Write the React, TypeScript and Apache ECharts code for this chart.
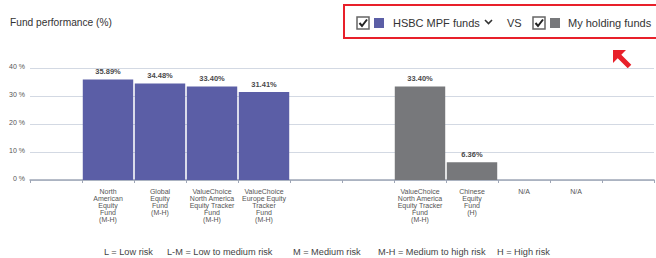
import React, { useEffect, useRef } from "react";
import * as echarts from "echarts";

const categories = [
  "",
  "North\nAmerican\nEquity\nFund\n(M-H)",
  "Global\nEquity\nFund\n(M-H)",
  "ValueChoice\nNorth America\nEquity Tracker\nFund\n(M-H)",
  "ValueChoice\nEurope Equity\nTracker\nFund\n(M-H)",
  "",
  "",
  "ValueChoice\nNorth America\nEquity Tracker\nFund\n(M-H)",
  "Chinese\nEquity\nFund\n(H)",
  "N/A",
  "N/A",
  "",
];

const hsbcValues = ["-", 35.89, 34.48, 33.4, 31.41, "-", "-", "-", "-", "-", "-", "-"];
const holdingValues = ["-", "-", "-", "-", "-", "-", "-", 33.4, 6.36, "-", "-", "-"];

const yTicks = { min: 0, max: 40, interval: 10 };

const riskLegend = [
  { text: "L = Low risk", x: 104 },
  { text: "L-M = Low to medium risk", x: 167 },
  { text: "M = Medium risk", x: 293 },
  { text: "M-H = Medium to high risk", x: 378 },
  { text: "H = High risk", x: 497 },
];

const PURPLE = "#5b5ea6";
const GREY = "#77787b";
const FONT = "'Liberation Sans', Arial, sans-serif";

export default function App() {
  const ref = useRef<HTMLDivElement>(null);

  useEffect(() => {
    if (!ref.current) return;
    const chart = echarts.init(ref.current, null, { renderer: "svg" });

    const checkbox = (x: number, y: number) => [
      {
        type: "rect",
        shape: { x, y, width: 12, height: 12 },
        style: { fill: "#fff", stroke: "#666", lineWidth: 1.5 },
      },
      {
        type: "polyline",
        shape: { points: [[x + 2.5, y + 6], [x + 5, y + 9], [x + 10, y + 2.5]] },
        style: { stroke: "#222", lineWidth: 2, fill: "none" },
      },
    ];

    const legendText = (text: string, x: number) => ({
      type: "text",
      x,
      y: 22.5,
      style: {
        text,
        fontSize: 11,
        fontFamily: FONT,
        fill: "#333",
        verticalAlign: "middle",
        align: "left",
      },
    });

    const barLabel = {
      show: true,
      position: "top",
      distance: 4,
      formatter: (p: any) => `${Number(p.value).toFixed(2)}%`,
      fontSize: 7.5,
      fontWeight: "bold",
      color: "#4a4a4a",
      fontFamily: FONT,
    };

    chart.setOption({
      animation: false,
      grid: { left: 30, right: 2, top: 68, bottom: 78, containLabel: false },
      xAxis: {
        type: "category",
        data: categories,
        axisLine: { show: true, lineStyle: { color: "#9ea6b6", width: 1.5 } },
        axisTick: { show: true, length: 3, lineStyle: { color: "#9ea6b6" }, alignWithLabel: false },
        axisLabel: {
          interval: 0,
          fontSize: 7,
          lineHeight: 7,
          color: "#555",
          fontFamily: FONT,
          margin: 8,
          verticalAlign: "top",
        },
      },
      yAxis: {
        type: "value",
        min: yTicks.min,
        max: yTicks.max,
        interval: yTicks.interval,
        axisLine: { show: false },
        axisTick: { show: false },
        splitLine: { lineStyle: { color: "#d3d9e3", width: 1 } },
        axisLabel: {
          formatter: (v: number) => `{a|${v} %}`,
          margin: 5,
          rich: {
            a: {
              fontSize: 7,
              color: "#555",
              fontFamily: FONT,
              padding: [0, 0, 4, 0],
            },
          },
        },
      },
      series: [
        {
          name: "HSBC MPF funds",
          type: "bar",
          stack: "s",
          data: hsbcValues,
          barCategoryGap: "3%",
          itemStyle: { color: PURPLE },
          label: barLabel,
        },
        {
          name: "My holding funds",
          type: "bar",
          stack: "s",
          data: holdingValues,
          barCategoryGap: "3%",
          itemStyle: { color: GREY },
          label: barLabel,
        },
      ],
      graphic: [
        {
          type: "text",
          x: 10,
          y: 22,
          style: {
            text: "Fund performance (%)",
            fontSize: 10.2,
            fontFamily: FONT,
            fill: "#333",
            verticalAlign: "middle",
          },
        },
        {
          type: "polyline",
          shape: { points: [[720, 5], [344, 5], [344, 38], [720, 38]] },
          style: { fill: "none", stroke: "#e8202a", lineWidth: 2 },
        },
        ...checkbox(357, 17),
        {
          type: "rect",
          shape: { x: 374, y: 18, width: 10, height: 10 },
          style: { fill: PURPLE },
        },
        legendText("HSBC MPF funds", 393),
        {
          type: "polyline",
          shape: { points: [[485, 20], [488.5, 23.5], [492, 20]] },
          style: { stroke: "#333", lineWidth: 1.6, fill: "none" },
        },
        legendText("VS", 507),
        ...checkbox(533, 17),
        {
          type: "rect",
          shape: { x: 550, y: 18, width: 10, height: 10 },
          style: { fill: GREY },
        },
        legendText("My holding funds", 568),
        {
          type: "polygon",
          shape: {
            points: [
              [613, 50],
              [626, 50],
              [621.3, 54.7],
              [631.3, 64.7],
              [627.7, 68.3],
              [617.7, 58.3],
              [613, 63],
            ],
          },
          style: { fill: "#e8202a" },
        },
        ...riskLegend.map((r) => ({
          type: "text",
          x: r.x,
          y: 252,
          style: {
            text: r.text,
            fontSize: 9.2,
            fontFamily: FONT,
            fill: "#444",
            verticalAlign: "middle",
          },
        })),
      ],
    });

    return () => chart.dispose();
  }, []);

  return (
    <div
      ref={ref}
      style={{ position: "absolute", left: 0, top: 0, width: 656, height: 258, background: "#fff" }}
    />
  );
}
